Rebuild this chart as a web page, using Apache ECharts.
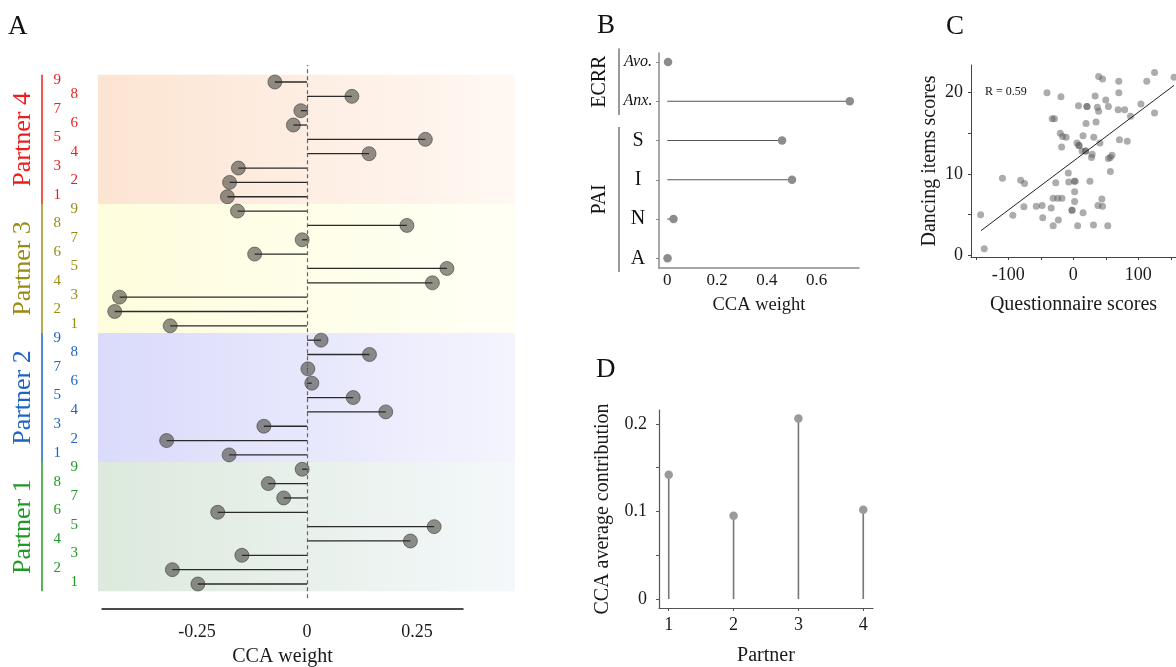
<!doctype html>
<html lang="en">
<head>
    <meta charset="UTF-8">
    <title>CCA weights</title>
    <script type="text/javascript" src="https://cdn.jsdelivr.net/npm/echarts@6/dist/echarts.min.js"></script>
    <style>
        html, body { margin: 0; padding: 0; background: #fff; }
        #container { width: 1176px; height: 667px; }
    </style>
</head>
<body>
<div id="container"></div>
<script type="text/javascript">

    // ---- panel A: item weights per partner (item 1..9) ----
    var partnerNames = ['Partner 1', 'Partner 2', 'Partner 3', 'Partner 4'];
    var itemLabels = ['1', '2', '3', '4', '5', '6', '7', '8', '9'];
    var weightsP1 = [-0.248, -0.306, -0.148, 0.235, 0.289, -0.203, -0.053, -0.088, -0.011];
    var weightsP2 = [-0.177, -0.319, -0.098, 0.179, 0.105, 0.011, 0.002, 0.142, 0.032];
    var weightsP3 = [-0.311, -0.437, -0.426, 0.285, 0.318, -0.119, -0.011, 0.227, -0.158];
    var weightsP4 = [-0.181, -0.176, -0.156, 0.141, 0.269, -0.031, -0.014, 0.102, -0.073];
    var weightTicks = [-0.25, 0, 0.25];

    // ---- panel B: questionnaire weights (bottom to top) ----
    var bLabels = ['A', 'N', 'I', 'S', 'Anx.', 'Avo.'];
    var bWeights = [0.001, 0.025, 0.501, 0.461, 0.733, 0.003];
    var bGroupNames = ['PAI', 'ECRR'];
    var bGroupFirst = [1, 5];
    var bGroupLast = [4, 6];
    var bTicks = [0, 0.2, 0.4, 0.6];

    // ---- panel C: scatter ----
    var questionnaire = [-142.6, -137, -109, -93, -81, -75, -76, -57, -48, -47, -40.5, -34, -31, -31, -32.5, -29,
        -27, -24, -23, -20, -19, -18, -17.4, -16.5, -11, -7.7, -7, -2, -2, 1.5, 3, 2, 2, 5.7, 6.7, 8.8, 8.8, 8,
        15, 15, 13.5, 19, 19, 19.6, 21, 21, 25.6, 29, 28, 31.5, 31, 33.6, 35, 37, 39, 38, 39, 41, 45, 44, 45,
        50, 54, 57, 54, 53, 57, 59.5, 70, 70, 69, 71, 79, 83, 88, 104, 113, 125, 125, 155];
    var dancing = [4.97, 0.78, 9.45, 4.9, 9.2, 8.8, 5.95, 6.0, 6.1, 4.6, 20.0, 5.8, 7.0, 3.6, 16.8, 16.8,
        8.9, 7.0, 4.3, 15.0, 19.5, 13.3, 7.0, 14.6, 14.5, 10.1, 9.0, 5.5, 5.5, 9.1, 9.1, 7.8, 6.6, 13.8, 3.6, 13.5, 13.5, 18.4,
        14.7, 5.2, 12.8, 12.8, 12.8, 16.2, 18.3, 18.3, 9.1, 12.4, 12.0, 14.5, 3.7, 19.6, 16.4, 18.2, 17.7, 6.1, 22.0, 13.8, 21.7, 6.9, 6.0,
        19.1, 18.3, 12.0, 11.9, 3.6, 10.3, 12.3, 21.4, 20.0, 17.9, 14.2, 17.9, 14.0, 17.1, 18.6, 21.4, 22.5, 17.5, 21.9];
    var fitX = [-142, 155];
    var fitY = [3.0, 20.9];
    var rLabel = 'R = 0.59';

    // ---- panel D: average contribution ----
    var partnerIds = [1, 2, 3, 4];
    var contribution = [0.142, 0.095, 0.206, 0.102];

    var serif = '"Liberation Serif", "DejaVu Serif", serif';
    var partnerColors = ['#1f9a24', '#1d63c8', '#9a8c12', '#ee1c1c'];
    var bandColors = [['#dce9dc', '#f4f8fa'], ['#dadafb', '#f4f4fe'], ['#fefddd', '#fffff5'], ['#fce4d2', '#fff8f3']];

    var allWeights = [weightsP1, weightsP2, weightsP3, weightsP4];
    var aRows = [];
    for (var p = 0; p < 4; p++) {
        for (var i = 0; i < 9; i++) {
            aRows.push([allWeights[p][i], p * 9 + i + 1]);
        }
    }
    var aRowValues = aRows.map(function (r) { return r[1]; });

    var aBands = partnerNames.map(function (n, p) {
        return [{
            yAxis: p * 9 + 0.5,
            itemStyle: {
                color: new echarts.graphic.LinearGradient(0, 0, 1, 0, [
                    {offset: 0, color: bandColors[p][0]},
                    {offset: 1, color: bandColors[p][1]}
                ])
            }
        }, {yAxis: p * 9 + 9.5}];
    });

    var rowRich = {};
    for (var p2 = 0; p2 < 4; p2++) {
        rowRich['p' + p2 + 'L'] = {color: partnerColors[p2], fontFamily: serif, fontSize: 15, padding: [0, 17, 4, 0]};
        rowRich['p' + p2 + 'R'] = {color: partnerColors[p2], fontFamily: serif, fontSize: 15, padding: [0, 0, 4, 0]};
    }

    var bRows = bWeights.map(function (w, k) { return [w, k + 1]; });
    var cPoints = questionnaire.map(function (q, k) { return [q, dancing[k]]; });
    var dPoints = partnerIds.map(function (id, k) { return [id, contribution[k]]; });

    function hStem(color, width) {
        return function (params, api) {
            var a = api.coord([0, api.value(1)]);
            var b = api.coord([api.value(0), api.value(1)]);
            return {type: 'line', shape: {x1: a[0], y1: a[1], x2: b[0], y2: b[1]},
                style: {stroke: color, lineWidth: width}};
        };
    }

    var dom = document.getElementById('container');
    var myChart = echarts.init(dom);

    var axisFont = {fontFamily: serif, color: '#1a1a1a'};

    option = {
        animation: false,
        backgroundColor: '#fff',
        title: [
            {text: 'A', left: 8, top: 13, padding: 0, textStyle: {fontFamily: serif, fontSize: 27, fontWeight: 'normal', color: '#111'}},
            {text: 'B', left: 597, top: 12, padding: 0, textStyle: {fontFamily: serif, fontSize: 27, fontWeight: 'normal', color: '#111'}},
            {text: 'C', left: 946, top: 13, padding: 0, textStyle: {fontFamily: serif, fontSize: 27, fontWeight: 'normal', color: '#111'}},
            {text: 'D', left: 596, top: 356, padding: 0, textStyle: {fontFamily: serif, fontSize: 27, fontWeight: 'normal', color: '#111'}},
            {text: rLabel, left: 985, top: 86, padding: 0, textStyle: {fontFamily: serif, fontSize: 12, fontWeight: 'normal', color: '#111'}}
        ],
        grid: [
            {left: 98, top: 65, width: 417, height: 544},
            {left: 102, top: 608, width: 361, height: 1},
            {left: 659, top: 53, width: 200, height: 215},
            {left: 971, top: 65, width: 206, height: 192},
            {left: 659, top: 410, width: 214, height: 200}
        ],
        xAxis: [
            {gridIndex: 0, type: 'value', min: -0.475, max: 0.4727, show: false},
            {
                gridIndex: 1, type: 'value', min: -0.4659, max: 0.3545,
                axisLine: {show: true, onZero: false, lineStyle: {color: '#111', width: 1.5}},
                axisTick: {show: false}, splitLine: {show: false},
                axisLabel: Object.assign({customValues: weightTicks, fontSize: 18, margin: 15,
                    formatter: function (v) { return v === 0 ? '0' : String(v); }}, axisFont),
                name: 'CCA weight', nameLocation: 'middle', nameGap: 38,
                nameTextStyle: {fontFamily: serif, fontSize: 20, color: '#1a1a1a'}
            },
            {
                gridIndex: 2, type: 'value', min: -0.0333, max: 0.77,
                axisLine: {show: true, onZero: false, lineStyle: {color: '#8a8a8a', width: 1.5}},
                axisTick: {show: false}, splitLine: {show: false},
                axisLabel: Object.assign({customValues: bTicks, fontSize: 17, margin: 4,
                    formatter: function (v) { return v === 0 ? '0' : v.toFixed(1); }}, axisFont),
                name: 'CCA weight', nameLocation: 'middle', nameGap: 28,
                nameTextStyle: {fontFamily: serif, fontSize: 18.5, color: '#1a1a1a'}
            },
            {
                gridIndex: 3, type: 'value', min: -157.4, max: 158,
                axisLine: {show: true, onZero: false, lineStyle: {color: '#444', width: 1}},
                axisTick: {show: true, length: 3, customValues: [-150, -100, -50, 0, 50, 100, 150], lineStyle: {color: '#444'}},
                splitLine: {show: false},
                axisLabel: Object.assign({customValues: [-100, 0, 100], fontSize: 18, margin: 9}, axisFont),
                name: 'Questionnaire scores', nameLocation: 'middle', nameGap: 38,
                nameTextStyle: {fontFamily: serif, fontSize: 20, color: '#1a1a1a'}
            },
            {
                gridIndex: 4, type: 'value', min: 0.85, max: 4.15,
                axisLine: {show: true, onZero: false, lineStyle: {color: '#555', width: 1.2}},
                axisTick: {show: true, length: 3, customValues: partnerIds, lineStyle: {color: '#555'}},
                splitLine: {show: false},
                axisLabel: Object.assign({customValues: partnerIds, fontSize: 18, margin: 8}, axisFont),
                name: 'Partner', nameLocation: 'middle', nameGap: 38,
                nameTextStyle: {fontFamily: serif, fontSize: 20, color: '#1a1a1a'}
            }
        ],
        yAxis: [
            {
                gridIndex: 0, type: 'value', min: -0.743, max: 37.185,
                axisLine: {show: false, onZero: false}, axisTick: {show: false}, splitLine: {show: false},
                axisLabel: {
                    customValues: aRowValues, margin: 20,
                    formatter: function (v) {
                        var idx = v - 1;
                        var p = Math.floor(idx / 9);
                        var col = (36 - v) % 2 === 0 ? 'L' : 'R';
                        return '{p' + p + col + '|' + itemLabels[idx % 9] + '}';
                    },
                    rich: rowRich
                }
            },
            {gridIndex: 1, type: 'value', min: 0, max: 1, show: false},
            {
                gridIndex: 2, type: 'value', min: 0.753, max: 6.23,
                axisLine: {show: true, onZero: false, lineStyle: {color: '#8a8a8a', width: 1.5}},
                axisTick: {show: true, length: 3, customValues: [1, 2, 3, 4, 5, 6], lineStyle: {color: '#8a8a8a'}},
                splitLine: {show: false},
                axisLabel: {
                    customValues: [1, 2, 3, 4, 5, 6], margin: 21, align: 'center',
                    formatter: function (v) {
                        var t = bLabels[v - 1];
                        return t.indexOf('.') >= 0 ? '{it|' + t + '}' : '{rg|' + t + '}';
                    },
                    rich: {
                        it: {fontFamily: serif, fontStyle: 'italic', fontSize: 16, color: '#111'},
                        rg: {fontFamily: serif, fontSize: 20, color: '#111'}
                    }
                }
            },
            {
                gridIndex: 3, type: 'value', min: -0.25, max: 23.41,
                axisLine: {show: true, onZero: false, lineStyle: {color: '#444', width: 1}},
                axisTick: {show: true, length: 3, customValues: [0, 5, 10, 15, 20], lineStyle: {color: '#444'}},
                splitLine: {show: false},
                axisLabel: Object.assign({customValues: [0, 10, 20], fontSize: 18, margin: 8}, axisFont),
                name: 'Dancing items scores', nameLocation: 'middle', nameGap: 31,
                nameTextStyle: {fontFamily: serif, fontSize: 20, color: '#1a1a1a'}
            },
            {
                gridIndex: 4, type: 'value', min: -0.0102, max: 0.2158,
                axisLine: {show: true, onZero: false, lineStyle: {color: '#555', width: 1.2}},
                axisTick: {show: true, length: 3, customValues: [0, 0.05, 0.1, 0.15, 0.2], lineStyle: {color: '#555'}},
                splitLine: {show: false},
                axisLabel: Object.assign({customValues: [0, 0.1, 0.2], fontSize: 18, margin: 12,
                    formatter: function (v) { return v === 0 ? '0' : v.toFixed(1); }}, axisFont),
                name: 'CCA average contribution', nameLocation: 'middle', nameGap: 46,
                nameTextStyle: {fontFamily: serif, fontSize: 20, color: '#1a1a1a'}
            }
        ],
        series: [
            // A
            {
                type: 'scatter', xAxisIndex: 0, yAxisIndex: 0, data: aRows, symbolSize: 14, z: 2,
                itemStyle: {color: 'rgba(66,66,56,0.58)', borderColor: 'rgba(50,50,50,0.55)', borderWidth: 1, opacity: 1},
                markArea: {silent: true, data: aBands},
                markLine: {
                    silent: true, symbol: 'none', label: {show: false},
                    lineStyle: {color: '#666', type: [4, 3], width: 1.2},
                    data: [[{coord: [0, 0]}, {coord: [0, 37.185]}]]
                }
            },
            {
                type: 'custom', xAxisIndex: 0, yAxisIndex: 0, data: aRows, z: 3,
                renderItem: hStem('#2a2a2a', 1.3)
            },
            {
                type: 'custom', xAxisIndex: 0, yAxisIndex: 0, clip: false, z: 4,
                data: partnerNames.map(function (n, p) { return [p]; }),
                renderItem: function (params, api) {
                    var p = api.value(0);
                    var gx = params.coordSys.x;
                    var top = api.coord([0, p * 9 + 9.5])[1];
                    var bot = api.coord([0, p * 9 + 0.5])[1];
                    return {
                        type: 'group', children: [
                            {type: 'line', shape: {x1: gx - 56, y1: top, x2: gx - 56, y2: bot},
                                style: {stroke: partnerColors[p], lineWidth: 1.5}},
                            {type: 'text', x: gx - 75, y: (top + bot) / 2, rotation: Math.PI / 2,
                                style: {text: partnerNames[p], fill: partnerColors[p], fontFamily: serif,
                                    fontSize: 26, align: 'center', verticalAlign: 'middle'}}
                        ]
                    };
                }
            },
            // B
            {
                type: 'custom', xAxisIndex: 2, yAxisIndex: 2, data: bRows, z: 2,
                renderItem: hStem('#555', 1.1)
            },
            {
                type: 'scatter', xAxisIndex: 2, yAxisIndex: 2, data: bRows, symbolSize: 8.5, z: 3,
                itemStyle: {color: '#8c8c8c', opacity: 1}
            },
            {
                type: 'custom', xAxisIndex: 2, yAxisIndex: 2, clip: false,
                data: bGroupNames.map(function (n, g) { return [g]; }),
                renderItem: function (params, api) {
                    var g = api.value(0);
                    var gx = params.coordSys.x;
                    var top = api.coord([0, bGroupLast[g] + 0.5])[1] + 6;
                    var bot = api.coord([0, bGroupFirst[g] - 0.5])[1] - 6;
                    return {
                        type: 'group', children: [
                            {type: 'line', shape: {x1: gx - 40, y1: top, x2: gx - 40, y2: bot},
                                style: {stroke: '#555', lineWidth: 1.2}},
                            {type: 'text', x: gx - 59, y: (top + bot) / 2, rotation: Math.PI / 2,
                                style: {text: bGroupNames[g], fill: '#111', fontFamily: serif,
                                    fontSize: 20, align: 'center', verticalAlign: 'middle'}}
                        ]
                    };
                }
            },
            // C
            {
                type: 'scatter', xAxisIndex: 3, yAxisIndex: 3, data: cPoints, symbolSize: 7,
                itemStyle: {color: 'rgba(90,90,90,0.5)', opacity: 1}
            },
            {
                type: 'line', xAxisIndex: 3, yAxisIndex: 3, showSymbol: false, symbol: 'none',
                data: fitX.map(function (x, k) { return [x, fitY[k]]; }),
                lineStyle: {color: '#222', width: 1}
            },
            // D
            {
                type: 'custom', xAxisIndex: 4, yAxisIndex: 4, data: dPoints,
                renderItem: function (params, api) {
                    var a = api.coord([api.value(0), 0]);
                    var b = api.coord([api.value(0), api.value(1)]);
                    return {type: 'line', shape: {x1: a[0], y1: a[1], x2: b[0], y2: b[1]},
                        style: {stroke: '#777', lineWidth: 1.6}};
                }
            },
            {
                type: 'scatter', xAxisIndex: 4, yAxisIndex: 4, data: dPoints, symbolSize: 8.5,
                itemStyle: {color: '#9a9a9a', opacity: 1}
            }
        ]
    };

    myChart.setOption(option, true);

</script>
</body>
</html>
